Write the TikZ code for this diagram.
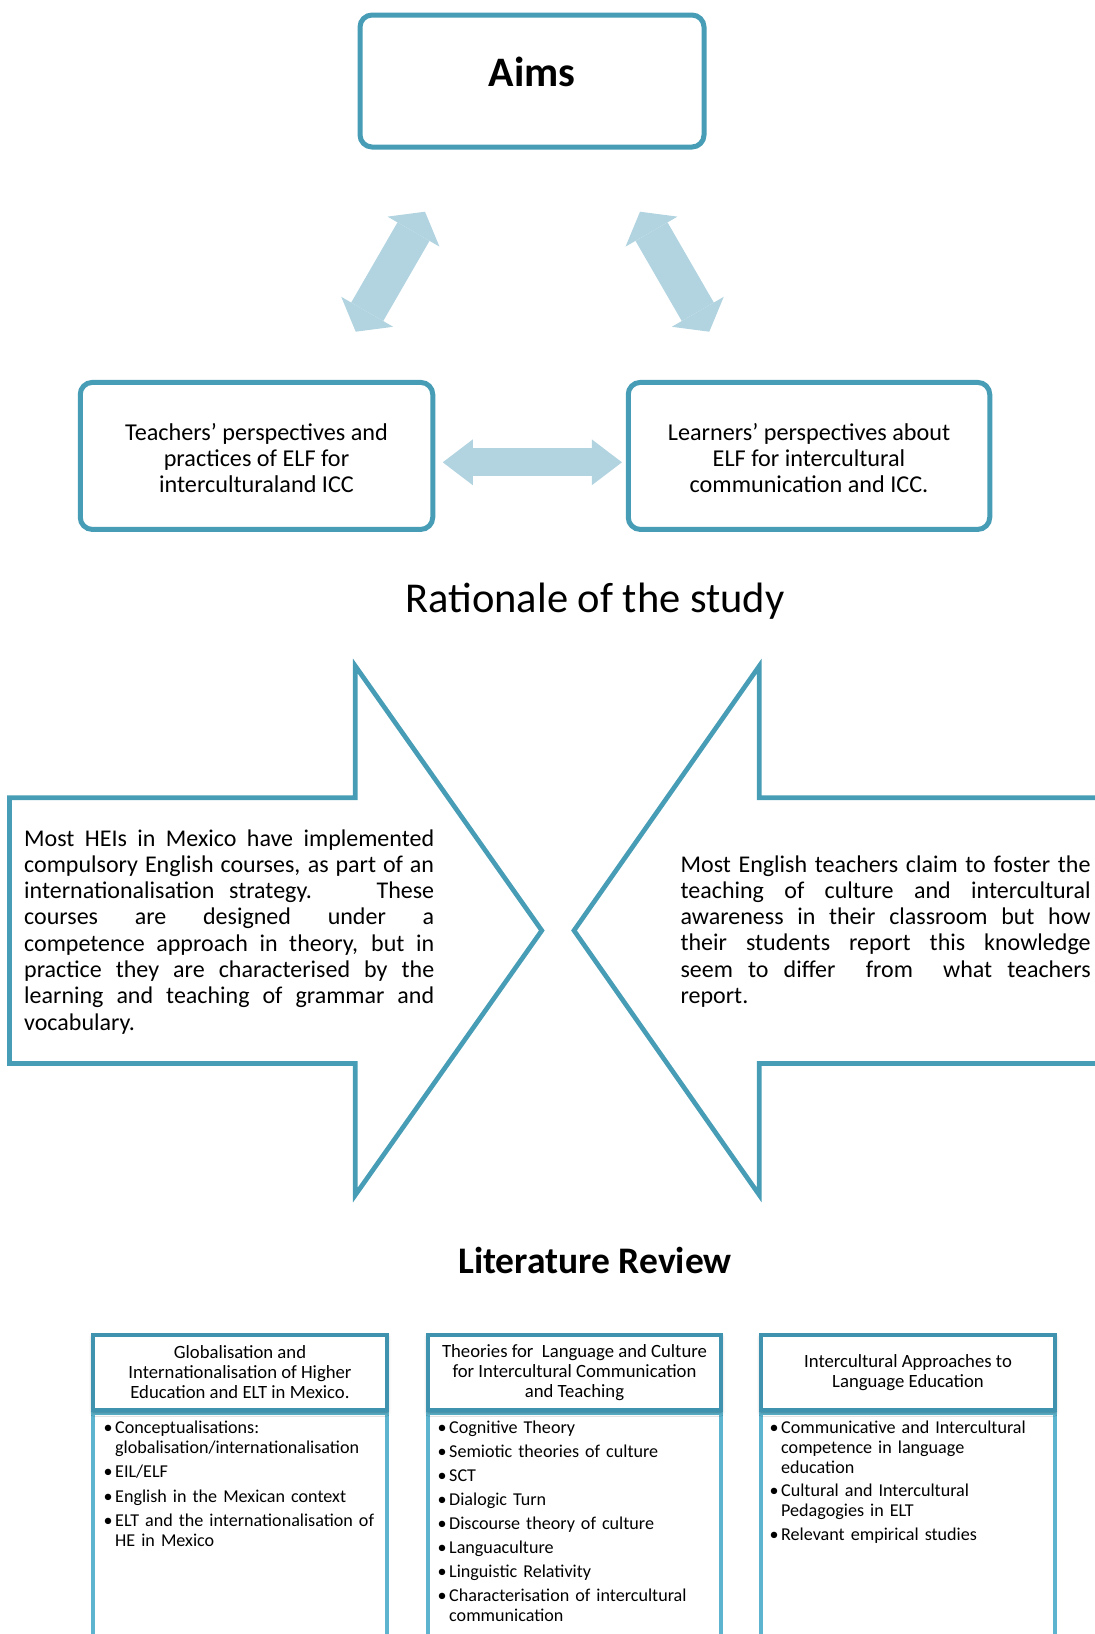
\documentclass[tikz,border=0pt]{standalone}
\usepackage{fontspec}
\setmainfont{Carlito}
\usetikzlibrary{arrows.meta, positioning, shadows.blur}

% bullet item with hanging indent
\newcommand{\bitem}[1]{\noindent\hangindent=10pt\hangafter=1\makebox[10pt][l]{\hspace{-1.5pt}\textbullet}#1\par}

\begin{document}
\begin{tikzpicture}[
    x=1pt, y=-1pt,
    % Define colors
    /utils/exec={
        \definecolor{aimTeal}{RGB}{72, 157, 182}
        \definecolor{headTeal}{RGB}{64, 147, 174}
        \definecolor{bodyTeal}{RGB}{92, 180, 206}
        \definecolor{arrowBlue}{RGB}{178, 212, 224}
    },
    % Node Styles
    block/.style={
        draw=aimTeal, line width=5pt, rounded corners=12pt, fill=white,
        align=center, inner sep=0pt, font=\fontsize{24.2}{26}\selectfont
    },
    chevron/.style={draw=aimTeal, line width=4.7pt, miter limit=10},
    chev_text/.style={
        inner sep=0pt, text width=410pt, align=justify,
        font=\fontsize{24}{26.3}\selectfont
    },
    head_box/.style={
        draw=headTeal, line width=4.5pt, fill=white, align=center,
        minimum width=294pt, minimum height=75pt, inner sep=0pt,
        font=\fontsize{18.7}{20}\selectfont,
        blur shadow={shadow xshift=0pt, shadow yshift=-2pt, shadow blur radius=4pt, shadow opacity=30}
    },
    body_box/.style={draw=bodyTeal, line width=4.5pt, fill=white},
    list_text/.style={
        inner sep=0pt, text width=280pt, align=left,
        font=\fontsize{18.1}{20}\selectfont
    },
    hor_arrow/.style={
        arrowBlue, line width=27.7pt,
        >={Triangle[length=30pt, width=45.7pt, line width=0pt]}, <->
    },
    diag_arrow/.style={
        arrowBlue, line width=37pt,
        >={Triangle[length=23pt, width=60pt, line width=0pt]}, <->
    }
]

\useasboundingbox (0,0) rectangle (1095,1634);
\clip (0,0) rectangle (1095,1634);

% =================================================================
% AIMS
% =================================================================
\node[block, minimum width=344pt, minimum height=132pt,
      font=\fontsize{42}{48}\selectfont\bfseries,
      text height=26pt, text depth=16pt] (aims) at (532,81) {Aims};

\node[block, minimum width=352.5pt, minimum height=147pt] (teachers) at (256.5,455.9)
    {\rule{0pt}{22pt}Teachers’ perspectives and\\practices of ELF for\\interculturaland ICC};
\node[block, minimum width=361.5pt, minimum height=147pt] (learners) at (809,455.9)
    {\rule{0pt}{22pt}Learners’ perspectives about\\ELF for intercultural\\communication and ICC.};

% Arrow ends
\coordinate (leftLow) at (355.7,331.7);
\coordinate (leftHigh) at (425,211.7);
\coordinate (rightHigh) at (640,211.7);
\coordinate (rightLow) at (709.3,331.7);

\draw[diag_arrow] (leftLow) -- (leftHigh);
\draw[diag_arrow] (rightHigh) -- (rightLow);
\draw[hor_arrow, shorten <=7.5pt, shorten >=3.8pt]
    ([yshift=-6.4pt]teachers.east) -- ([yshift=-6.4pt]learners.west);

% =================================================================
% RATIONALE
% =================================================================
\node[anchor=base, inner sep=0pt, font=\fontsize{42.5}{48}\selectfont] (rationale) at (595,612.6)
    {Rationale of the study};

% --- Chevrons ---
\draw[chevron] (9.4,797.7) -- (355.3,797.7) -- (355.3,666) -- (541.8,930.5)
    -- (355.3,1195) -- (355.3,1063.5) -- (9.4,1063.5) -- cycle;
\draw[chevron] (1105,797.7) -- (759.3,797.7) -- (759.3,666) -- (574,930.5)
    -- (759.3,1195) -- (759.3,1063.5) -- (1105,1063.5);

\node[chev_text, anchor=base west] (heiText) at (24,846)
    {Most HEIs in Mexico have implemented\linebreak compulsory English courses, as part of an\linebreak internationalisation strategy. \ \ These\linebreak courses are designed under a\linebreak competence approach in theory, but in\linebreak practice they are characterised by the\linebreak learning and teaching of grammar and\linebreak vocabulary.};

\node[chev_text, anchor=base west] (teacherText) at (680.4,872)
    {Most English teachers claim to foster the\linebreak teaching of culture and intercultural\linebreak awareness in their classroom but how\linebreak their students report this knowledge\linebreak seem to differ \ from \ what teachers\linebreak report.};

% =================================================================
% LITERATURE REVIEW
% =================================================================
\node[anchor=base, inner sep=0pt, font=\fontsize{37.5}{44}\selectfont\bfseries] (litReview) at (595,1273)
    {Literature Review};

% --- Column bodies ---
\node[body_box, minimum width=294pt, minimum height=260pt, anchor=north] (globBody) at (240,1410) {};
\node[body_box, minimum width=293pt, minimum height=260pt, anchor=north] (theoBody) at (574.5,1410) {};
\node[body_box, minimum width=294pt, minimum height=260pt, anchor=north] (interBody) at (908,1410) {};

% --- Column headers ---
\node[head_box] (globHead) at (240,1372.5)
    {Globalisation and\\Internationalisation of Higher\\Education and ELT in Mexico.};
\node[head_box, minimum width=293pt] (theoHead) at (574.5,1372.5)
    {Theories for\ \ Language and Culture\\for Intercultural Communication\\and Teaching};
\node[head_box] (interHead) at (908,1372.5)
    {Intercultural Approaches to\\Language Education};

% --- Column lists ---
\node[list_text, anchor=base west] (globList) at (105,1433) {\parskip=4.5pt
    \bitem{Conceptualisations:\newline globalisation/internationalisation}
    \bitem{EIL/ELF}
    \bitem{English in the Mexican context}
    \bitem{ELT and the internationalisation of\newline HE in Mexico}};

\node[list_text, anchor=base west] (theoList) at (439,1433) {\parskip=4pt
    \bitem{Cognitive Theory}
    \bitem{Semiotic theories of culture}
    \bitem{SCT}
    \bitem{Dialogic Turn}
    \bitem{Discourse theory of culture}
    \bitem{Languaculture}
    \bitem{Linguistic Relativity}
    \bitem{Characterisation of intercultural\newline communication}};

\node[list_text, anchor=base west] (interList) at (771,1433) {\parskip=3.5pt
    \bitem{Communicative and Intercultural\newline competence in language\newline education}
    \bitem{Cultural and Intercultural\newline Pedagogies in ELT}
    \bitem{Relevant empirical studies}};

\end{tikzpicture}
\end{document}
